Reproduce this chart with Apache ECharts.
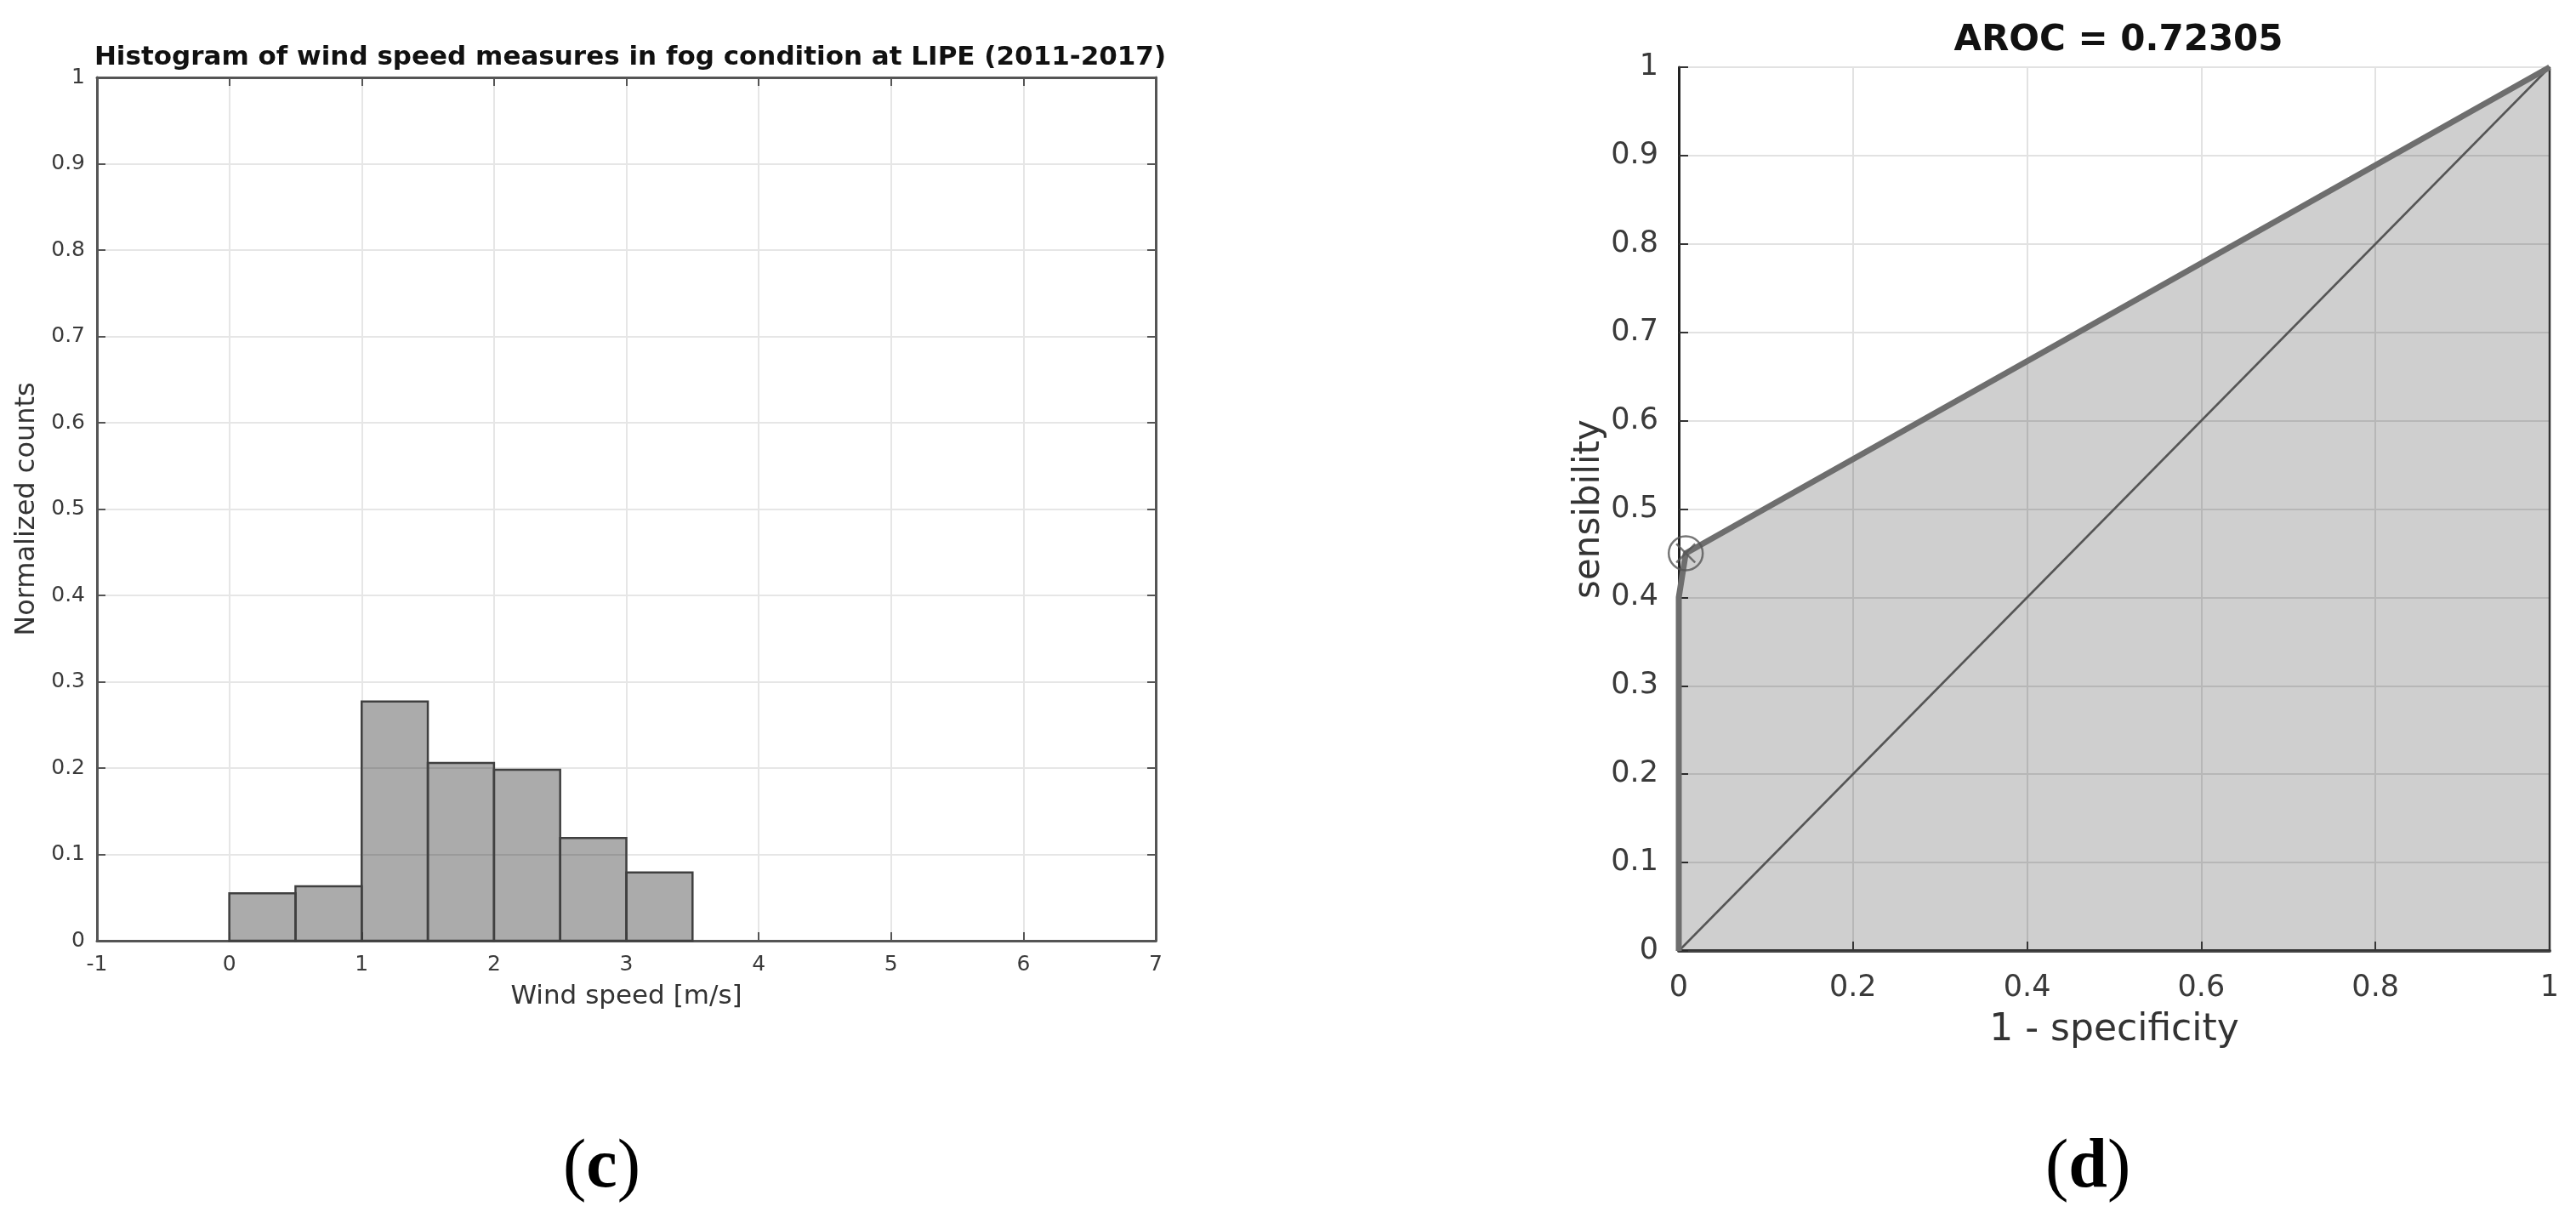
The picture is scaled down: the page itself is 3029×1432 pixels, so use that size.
<!DOCTYPE html>
<html>
<head>
<meta charset="utf-8">
<script src="https://cdn.jsdelivr.net/npm/echarts@6/dist/echarts.min.js"></script>
<style>
  html, body { margin: 0; padding: 0; background: #fff; }
  #chart { width: 3029px; height: 1432px; }
</style>
</head>
<body>
<div id="chart"></div>
<script>
// ---- Histogram (c) ----
const histTitle = 'Histogram of wind speed measures in fog condition at LIPE (2011-2017)';
const binStarts = [0, 0.5, 1.0, 1.5, 2.0, 2.5, 3.0];
const binWidth = 0.5;
const binValues = [0.055, 0.063, 0.277, 0.206, 0.198, 0.119, 0.079];
const histXTicks = [-1, 0, 1, 2, 3, 4, 5, 6, 7];
const histYTicks = [0, 0.1, 0.2, 0.3, 0.4, 0.5, 0.6, 0.7, 0.8, 0.9, 1];

// ---- ROC (d) ----
const rocTitle = 'AROC = 0.72305';
const rocX = [0, 0, 0.008, 1];
const rocY = [0, 0.4, 0.45, 1];
const optimalPoint = [0.008, 0.45];
const diagonalX = [0, 1];
const diagonalY = [0, 1];
const rocXTicks = [0, 0.2, 0.4, 0.6, 0.8, 1];
const rocYTicks = [0, 0.1, 0.2, 0.3, 0.4, 0.5, 0.6, 0.7, 0.8, 0.9, 1];

const chart = echarts.init(document.getElementById('chart'), null, { renderer: 'canvas' });
const FONT = 'DejaVu Sans';

const histData = binStarts.map((s, i) => [s, s + binWidth, binValues[i]]);
const rocLine = rocX.map((x, i) => [x, rocY[i]]);
const rocPatch = rocLine.concat([[1, 0]]);
const diag = diagonalX.map((x, i) => [x, diagonalY[i]]);

const gridLineL = { show: true, lineStyle: { color: '#e6e6e6', width: 2 } };

const option = {
  backgroundColor: '#ffffff',
  animation: false,
  title: [
    { text: histTitle, left: 736, top: 47, textAlign: 'center',
      textStyle: { fontFamily: FONT, fontSize: 31, fontWeight: 'bold', color: '#111' } },
    { text: rocTitle, left: 2486, top: 22, textAlign: 'center',
      textStyle: { fontFamily: FONT, fontSize: 42, fontWeight: 'bold', color: '#111' } }
  ],
  grid: [
    { left: 114, right: 1670, top: 91, bottom: 326, containLabel: false },
    { left: 1974, right: 31, top: 79, bottom: 314, containLabel: false }
  ],
  xAxis: [
    { type: 'value', gridIndex: 0, min: histXTicks[0], max: histXTicks[histXTicks.length - 1], interval: 1,
      name: 'Wind speed [m/s]', nameLocation: 'middle', nameGap: 50,
      nameTextStyle: { fontFamily: FONT, fontSize: 31, color: '#333' },
      axisLine: { show: true, onZero: false, lineStyle: { color: '#555', width: 3 } },
      axisTick: { show: true, inside: true, length: 10, lineStyle: { color: '#555', width: 2 } },
      axisLabel: { fontFamily: FONT, fontSize: 25, color: '#3a3a3a', margin: 16 },
      splitLine: gridLineL },
    { type: 'value', gridIndex: 0, position: 'top', min: histXTicks[0], max: histXTicks[histXTicks.length - 1], interval: 1,
      axisLine: { show: true, onZero: false, lineStyle: { color: '#555', width: 3 } },
      axisTick: { show: true, inside: true, length: 10, lineStyle: { color: '#555', width: 2 } },
      axisLabel: { show: false }, splitLine: { show: false } },
    { type: 'value', gridIndex: 1, min: 0, max: 1, interval: 0.2,
      name: '1 - specificity', nameLocation: 'middle', nameGap: 72,
      nameTextStyle: { fontFamily: FONT, fontSize: 44, color: '#333' },
      axisLine: { show: true, onZero: false, lineStyle: { color: '#444', width: 4 } },
      axisTick: { show: true, inside: true, length: 11, lineStyle: { color: '#444', width: 2 } },
      axisLabel: { fontFamily: FONT, fontSize: 35, color: '#3a3a3a', margin: 26 },
      splitLine: { show: true, lineStyle: { color: '#e2e2e2', width: 2 } } }
  ],
  yAxis: [
    { type: 'value', gridIndex: 0, min: 0, max: 1, interval: 0.1,
      name: 'Normalized counts', nameLocation: 'middle', nameGap: 66,
      nameTextStyle: { fontFamily: FONT, fontSize: 32, color: '#333' },
      axisLine: { show: true, onZero: false, lineStyle: { color: '#555', width: 3 } },
      axisTick: { show: true, inside: true, length: 10, lineStyle: { color: '#555', width: 2 } },
      axisLabel: { fontFamily: FONT, fontSize: 25, color: '#3a3a3a', margin: 14 },
      splitLine: gridLineL },
    { type: 'value', gridIndex: 0, position: 'right', min: 0, max: 1, interval: 0.1,
      axisLine: { show: true, onZero: false, lineStyle: { color: '#555', width: 3 } },
      axisTick: { show: true, inside: true, length: 10, lineStyle: { color: '#555', width: 2 } },
      axisLabel: { show: false }, splitLine: { show: false } },
    { type: 'value', gridIndex: 1, min: 0, max: 1, interval: 0.1,
      name: 'sensibility', nameLocation: 'middle', nameGap: 84,
      nameTextStyle: { fontFamily: FONT, fontSize: 42, color: '#333' },
      axisLine: { show: true, onZero: false, lineStyle: { color: '#222', width: 3 } },
      axisTick: { show: true, inside: true, length: 11, lineStyle: { color: '#333', width: 2 } },
      axisLabel: { fontFamily: FONT, fontSize: 35, color: '#3a3a3a', margin: 24 },
      splitLine: { show: true, lineStyle: { color: '#e2e2e2', width: 2 } } }
  ],
  series: [
    { type: 'custom', xAxisIndex: 0, yAxisIndex: 0, data: histData, z: 3,
      renderItem: function (params, api) {
        const p0 = api.coord([api.value(0), api.value(2)]);
        const p1 = api.coord([api.value(1), 0]);
        return {
          type: 'rect',
          shape: { x: p0[0], y: p0[1], width: p1[0] - p0[0], height: p1[1] - p0[1] },
          style: { fill: 'rgba(0,0,0,0.33)', stroke: '#404040', lineWidth: 2.5 }
        };
      } },
    { type: 'line', xAxisIndex: 2, yAxisIndex: 2, data: rocPatch, showSymbol: false, z: 2,
      lineStyle: { color: '#333', width: 2.5 },
      areaStyle: { color: 'rgba(0,0,0,0.19)', opacity: 1, origin: 'start' } },
    { type: 'line', xAxisIndex: 2, yAxisIndex: 2, data: diag, showSymbol: false, z: 3,
      lineStyle: { color: '#555', width: 2.5 } },
    { type: 'line', xAxisIndex: 2, yAxisIndex: 2, data: rocLine, showSymbol: false, z: 4,
      lineStyle: { color: '#6e6e6e', width: 7 } },
    { type: 'scatter', xAxisIndex: 2, yAxisIndex: 2, data: [optimalPoint], z: 5,
      symbol: 'circle', symbolSize: 40,
      itemStyle: { color: 'rgba(0,0,0,0)', borderColor: '#555', borderWidth: 2.5 } },
    { type: 'scatter', xAxisIndex: 2, yAxisIndex: 2, data: [optimalPoint], z: 5,
      symbol: 'path://M0,0 L10,10 M10,0 L0,10', symbolSize: 22,
      itemStyle: { color: 'rgba(0,0,0,0)', borderColor: '#555', borderWidth: 2.5 } }
  ],
  graphic: [
    { type: 'text', left: 662, top: 1333, style: {
        text: '{p|(}{b|c}{p|)}', fontFamily: 'Liberation Serif', fontSize: 82, fill: '#000',
        rich: { p: { fontFamily: 'Liberation Serif', fontSize: 82, fill: '#000' },
                b: { fontFamily: 'Liberation Serif', fontSize: 82, fontWeight: 'bold', fill: '#000' } } } },
    { type: 'text', left: 2405, top: 1333, style: {
        text: '{p|(}{b|d}{p|)}', fontFamily: 'Liberation Serif', fontSize: 82, fill: '#000',
        rich: { p: { fontFamily: 'Liberation Serif', fontSize: 82, fill: '#000' },
                b: { fontFamily: 'Liberation Serif', fontSize: 82, fontWeight: 'bold', fill: '#000' } } } }
  ]
};
chart.setOption(option);
</script>
</body>
</html>
